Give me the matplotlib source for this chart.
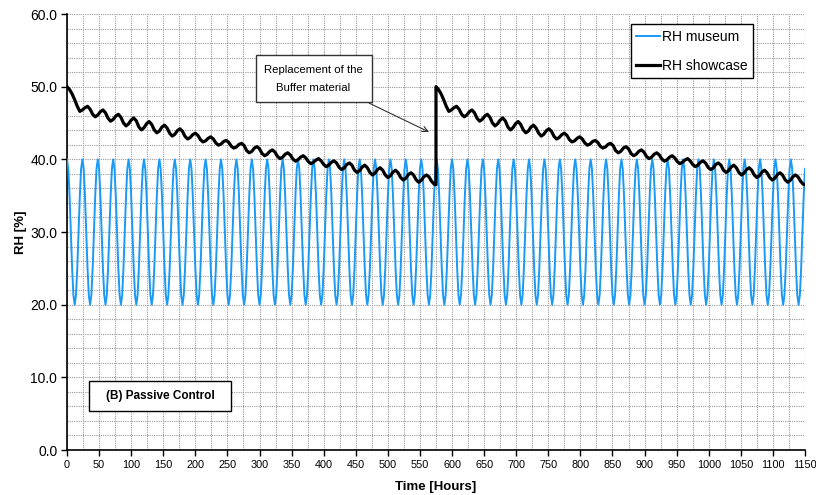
import numpy as np
import matplotlib
matplotlib.use("Agg")
import matplotlib.pyplot as plt
from matplotlib.ticker import MultipleLocator, FormatStrFormatter
from matplotlib.patches import Rectangle

plt.rcParams['font.family'] = ['Liberation Sans', 'DejaVu Sans']

# RH museum: one daily cycle (every 2 h), repeats for every day of the test
museum_day = [40.0, 38.7, 35.0, 30.0, 25.0, 21.3, 20.0, 21.3, 25.0, 30.0, 35.0, 38.7]
museum_hours = list(range(0, 1151, 2))

# RH showcase: one buffer period (every 4 h, last point at 575 h)
showcase_hours = list(range(0, 576, 4)) + [575]
showcase_rh = [
    50.0, 49.6, 49.0, 48.2, 47.3, 46.6,
    46.8, 47.1, 47.3, 46.9, 46.2, 45.85,
    46.1, 46.55, 46.8, 46.4, 45.65, 45.25,
    45.5, 45.95, 46.2, 45.8, 45.0, 44.6,
    44.9, 45.4, 45.7, 45.3, 44.45, 44.05,
    44.35, 44.9, 45.2, 44.8, 44.05, 43.65,
    43.9, 44.45, 44.7, 44.3, 43.6, 43.2,
    43.45, 43.95, 44.2, 43.85, 43.15, 42.8,
    43.0, 43.4, 43.6, 43.3, 42.7, 42.4,
    42.55, 42.9, 43.1, 42.8, 42.25, 41.95,
    42.1, 42.45, 42.6, 42.35, 41.8, 41.55,
    41.7, 42.05, 42.2, 41.9, 41.2, 40.9,
    41.1, 41.55, 41.75, 41.45, 40.8, 40.5,
    40.7, 41.1, 41.3, 41.0, 40.4, 40.1,
    40.3, 40.7, 40.9, 40.6, 40.05, 39.75,
    39.95, 40.3, 40.5, 40.2, 39.7, 39.4,
    39.6, 39.9, 40.1, 39.8, 39.3, 39.0,
    39.2, 39.6, 39.8, 39.5, 38.9, 38.6,
    38.8, 39.3, 39.5, 39.2, 38.5, 38.2,
    38.45, 38.95, 39.2, 38.85, 38.2, 37.85,
    38.1, 38.6, 38.85, 38.5, 37.85, 37.5,
    37.75, 38.25, 38.5, 38.15, 37.5, 37.15,
    37.4, 37.9, 38.15, 37.85, 37.2, 36.85,
    37.1, 37.6, 37.85, 37.6, 37.0, 36.6,
    36.5,
]
replacement_hour = 575

# full series
museum = np.resize(museum_day, len(museum_hours))
show_t = np.concatenate([showcase_hours, np.array(showcase_hours) + replacement_hour])
show_rh = np.concatenate([showcase_rh, showcase_rh])

fig = plt.figure(figsize=(8.16, 4.95), dpi=100)
ax = fig.add_axes([0.0821, 0.0909, 0.9044, 0.8808])

ax.plot(museum_hours, museum, color='#1a9af5', lw=1.4, label='RH museum', zorder=3)
ax.plot(show_t, show_rh, color='black', lw=2.3, label='RH showcase', zorder=4)

ax.set_xlim(0, 1150)
ax.set_ylim(0, 60)
ax.xaxis.set_major_locator(MultipleLocator(50))
ax.xaxis.set_minor_locator(MultipleLocator(25))
ax.yaxis.set_major_locator(MultipleLocator(10))
ax.yaxis.set_minor_locator(MultipleLocator(2))
ax.yaxis.set_major_formatter(FormatStrFormatter('%.1f'))
ax.grid(which='both', color='#9a9a9a', lw=0.8, ls=(0, (1, 1)), zorder=0)
ax.tick_params(which='major', direction='out', length=4, width=1)
ax.tick_params(axis='x', labelsize=7.8, pad=3)
ax.tick_params(axis='y', labelsize=10, pad=3)
ax.tick_params(which='minor', length=0)
for s in ['top', 'right']:
    ax.spines[s].set_visible(False)
for s in ['left', 'bottom']:
    ax.spines[s].set_linewidth(1.2)

ax.set_xlabel('Time [Hours]', fontweight='bold', fontsize=9.5, labelpad=8)
ax.set_ylabel('RH [%]', fontweight='bold', fontsize=9.5, labelpad=2)

leg = ax.legend(loc='upper right', bbox_to_anchor=(0.9295, 0.977), fontsize=10,
                fancybox=False, edgecolor='black', framealpha=1,
                handlelength=1.75, handletextpad=0.1, labelspacing=1.1,
                borderpad=0.4, borderaxespad=0)
leg.get_frame().set_linewidth(1.0)

# annotation box and arrow
ax.add_patch(Rectangle((294, 47.9), 181, 6.45, facecolor='white', edgecolor='#333333',
                       lw=1.0, zorder=5))
ax.text(384, 51.1, 'Replacement of the\nBuffer material', ha='center', va='center',
        fontsize=8.2, linespacing=2.0, zorder=6)
ax.annotate('', xy=(568, 43.6), xytext=(467, 47.9),
            arrowprops=dict(arrowstyle='->', color='#333333', lw=0.8), zorder=6)

ax.add_patch(Rectangle((34, 5.4), 222, 4.1, facecolor='white', edgecolor='black',
                       lw=1.0, zorder=5))
ax.text(145, 7.45, '(B) Passive Control', ha='center', va='center',
        fontsize=8.5, fontweight='bold', zorder=6)

fig.savefig('out.png', dpi=100)
